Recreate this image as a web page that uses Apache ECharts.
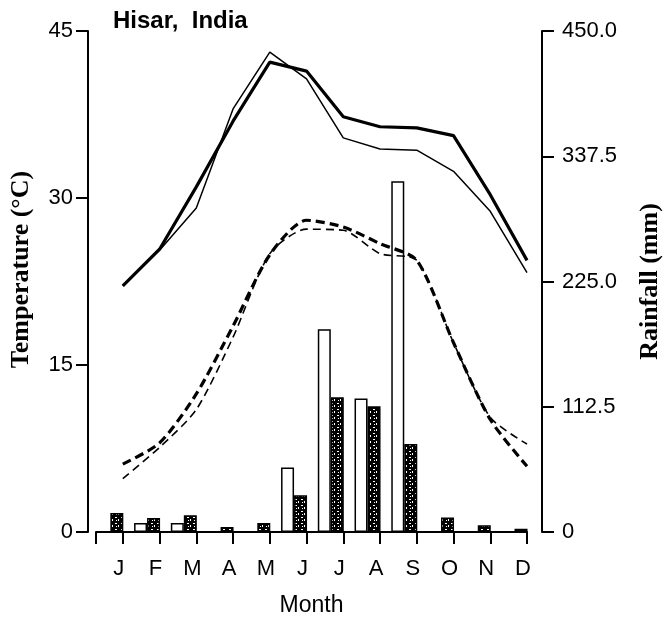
<!DOCTYPE html>
<html>
<head>
<meta charset="utf-8">
<script src="https://cdn.jsdelivr.net/npm/echarts@6/dist/echarts.min.js"></script>
<style>
html,body{margin:0;padding:0;background:#fff;}
#c{width:671px;height:622px;}
</style>
</head>
<body>
<div id="c"></div>
<script>
// ---- data ----
const months = ['J','F','M','A','M','J','J','A','S','O','N','D'];
const monthIdx = [1,2,3,4,5,6,7,8,9,10,11,12];
// maximum temperature (°C)
const tmaxThick = [22.1, 25.4, 31.0, 36.9, 42.2, 41.4, 37.3, 36.4, 36.3, 35.6, 30.3, 24.4];
const tmaxThin  = [22.1, 25.3, 29.1, 38.0, 43.1, 40.7, 35.4, 34.4, 34.3, 32.4, 28.8, 23.3];
// minimum temperature (°C)
const tminThick = [6.1, 8.0, 12.4, 18.5, 24.9, 28.0, 27.4, 25.9, 24.4, 17.0, 10.1, 5.9];
const tminThin  = [4.8, 7.6, 11.0, 17.5, 25.0, 27.2, 27.1, 25.0, 24.4, 17.0, 10.3, 7.9];
// rainfall (mm)
const rainOpen  = [0, 8, 8, 0, 0, 58, 182, 120, 315, 0, 0, 0];
const rainDots  = [17, 12.5, 15, 4.5, 8, 33, 121, 113, 79, 13, 6, 3];
// axis ticks
const tempTicks = {min: 0, max: 45, interval: 15};
const rainTicks = {min: 0, max: 450, interval: 112.5};

// ---- layout constants ----
const XMIN = 0.27, XMAX = 12;   // month-axis extent
const BAR_SHIFT = 0.34;          // bar pair sits left of each month tick

const pts = arr => arr.map((v, i) => [monthIdx[i], v]);

// speckled fill pattern
const pc = document.createElement('canvas');
pc.width = 6; pc.height = 6;
const g = pc.getContext('2d');
g.fillStyle = '#000'; g.fillRect(0, 0, 6, 6);
g.fillStyle = '#fff';
g.fillRect(1, 1, 2, 1);
g.fillRect(4, 3, 1, 2);
g.fillRect(2, 4, 1, 1);

const chart = echarts.init(document.getElementById('c'), null, {renderer: 'canvas'});
const sans = 'Liberation Sans, Arial, sans-serif';
const serif = 'Liberation Serif, Times New Roman, serif';

chart.setOption({
  animation: false,
  backgroundColor: '#fff',
  title: {
    text: 'Hisar,  India',
    left: 108, top: 4,
    textStyle: {fontFamily: sans, fontWeight: 'bold', fontSize: 24, color: '#000'}
  },
  grid: {left: 95, right: 127, top: 31, bottom: 86},
  xAxis: [{
    type: 'value', min: XMIN, max: XMAX,
    name: 'Month', nameLocation: 'middle', nameGap: 62,
    nameTextStyle: {fontFamily: sans, fontSize: 23, color: '#000'},
    axisLine: {show: true, lineStyle: {color: '#000', width: 2}},
    axisTick: {show: true, length: 12, customValues: [XMIN].concat(monthIdx), lineStyle: {color: '#000', width: 2}},
    axisLabel: {
      customValues: monthIdx,
      formatter: v => months[Math.round(v) - 1],
      fontFamily: sans, fontSize: 22, color: '#000', margin: 26,
      padding: [0, 8, 0, 0]
    },
    splitLine: {show: false}
  }, {
    type: 'value', min: XMIN + BAR_SHIFT, max: XMAX + BAR_SHIFT, show: false
  }],
  yAxis: [{
    type: 'value', position: 'left', offset: 8,
    min: tempTicks.min, max: tempTicks.max, interval: tempTicks.interval,
    name: 'Temperature (°C)', nameLocation: 'middle', nameGap: 54, nameRotate: 90,
    nameTextStyle: {fontFamily: serif, fontWeight: 'bold', fontSize: 26, color: '#000', padding: [0, 0, 0, 24]},
    axisLine: {show: true, lineStyle: {color: '#000', width: 2}},
    axisTick: {show: true, length: 12, lineStyle: {color: '#000', width: 2}},
    axisLabel: {fontFamily: sans, fontSize: 22, color: '#000', margin: 15},
    splitLine: {show: false}
  }, {
    type: 'value', position: 'right', offset: 15,
    min: rainTicks.min, max: rainTicks.max, interval: rainTicks.interval,
    name: 'Rainfall (mm)', nameLocation: 'middle', nameGap: 95, nameRotate: 90,
    nameTextStyle: {fontFamily: serif, fontWeight: 'bold', fontSize: 26, color: '#000'},
    axisLine: {show: true, lineStyle: {color: '#000', width: 2}},
    axisTick: {show: true, length: 12, lineStyle: {color: '#000', width: 2}},
    axisLabel: {fontFamily: sans, fontSize: 22, color: '#000', margin: 20,
      formatter: v => v === 0 ? '0' : v.toFixed(1)},
    splitLine: {show: false}
  }],
  series: [
    {type: 'bar', xAxisIndex: 1, yAxisIndex: 1, data: pts(rainOpen), barWidth: 13, barGap: '0%',
     itemStyle: {color: '#fff', borderColor: '#000', borderWidth: 1.5}},
    {type: 'bar', xAxisIndex: 1, yAxisIndex: 1, data: pts(rainDots), barWidth: 13, barGap: '0%',
     itemStyle: {color: {image: pc, repeat: 'repeat'}, borderColor: '#000', borderWidth: 1.5}},
    {type: 'line', xAxisIndex: 0, yAxisIndex: 0, data: pts(tmaxThick), showSymbol: false,
     lineStyle: {color: '#000', width: 3.2}},
    {type: 'line', xAxisIndex: 0, yAxisIndex: 0, data: pts(tmaxThin), showSymbol: false,
     lineStyle: {color: '#000', width: 1.5}},
    {type: 'line', xAxisIndex: 0, yAxisIndex: 0, data: pts(tminThick), showSymbol: false, smooth: 0.25,
     lineStyle: {color: '#000', width: 3.2, type: [9, 5]}},
    {type: 'line', xAxisIndex: 0, yAxisIndex: 0, data: pts(tminThin), showSymbol: false, smooth: 0.25,
     lineStyle: {color: '#000', width: 1.6, type: [8, 5]}}
  ]
});
</script>
</body>
</html>
